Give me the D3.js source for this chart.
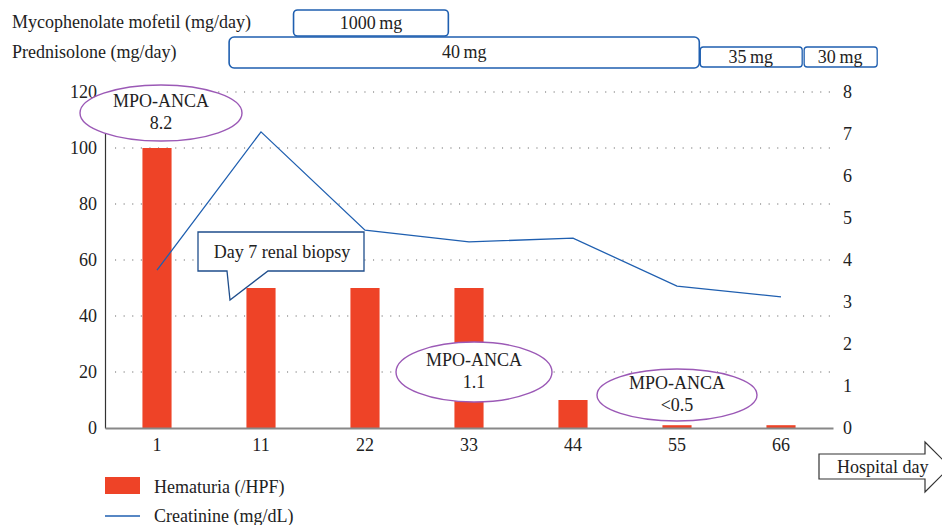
<!DOCTYPE html>
<html><head><meta charset="utf-8">
<script src="https://cdn.jsdelivr.net/npm/d3@7"></script>
<style>body{margin:0;background:#fff}svg{display:block}svg text{font-family:"Liberation Serif","DejaVu Serif",serif !important;fill:#222}</style>
</head><body>
<script>
const days = ["1","11","22","33","44","55","66"];
const hematuria = [100,50,50,50,10,1,1];
const creatinine = [3.76,7.05,4.71,4.43,4.52,3.38,3.12];
const leftTicks = [0,20,40,60,80,100,120];
const rightTicks = [0,1,2,3,4,5,6,7,8];
const mmfLabels = ["1000\u2009mg"];
const mmfStart = [15.2];
const mmfEnd = [31.3];
const predLabels = ["40\u2009mg","35\u2009mg","30\u2009mg"];
const predStart = [8.5,57.4,68.2];
const predEnd = [57.4,68.1,75.9];
const ancaDay = ["1","33","55"];
const ancaVal = ["8.2","1.1","<0.5"];

const W=942,H=525, FS=18;
const svg=d3.select("body").append("svg").attr("width",W).attr("height",H)
  .attr("font-family","Liberation Serif, serif");
const m={l:105,r:833,t:92,b:428};
const x=d3.scaleBand().domain(days).range([m.l,m.r]).paddingInner(0.72).paddingOuter(0.36);
const y=d3.scaleLinear().domain([0,120]).range([m.b,m.t]);
const y2=d3.scaleLinear().domain([0,8]).range([m.b,m.t]);
const cx=d=>x(d)+x.bandwidth()/2;
const dayScale=d3.scaleLinear().domain([1,66]).range([157,782]);

// gridlines
svg.append("g").selectAll("line").data(leftTicks.filter(d=>d>0)).join("line")
 .attr("x1",m.l+10).attr("x2",m.r).attr("y1",d=>y(d)).attr("y2",d=>y(d))
 .attr("stroke","#666").attr("stroke-width",1.1).attr("stroke-dasharray","1.1,7.5");

// bars
svg.append("g").selectAll("rect").data(hematuria).join("rect")
 .attr("x",(d,i)=>x(days[i])).attr("width",x.bandwidth())
 .attr("y",d=>y(d)).attr("height",d=>m.b-y(d)).attr("fill","#ee4327");

// axes
function styleAxis(g){g.attr("font-family",null).attr("font-size",null);
  g.selectAll("text").attr("font-size",FS).attr("fill","#222");}
const ay=svg.append("g").attr("transform",`translate(${m.l},0)`)
 .call(d3.axisLeft(y).tickValues(leftTicks).tickSize(0).tickPadding(8));
ay.select(".domain").attr("stroke","#333").attr("stroke-width",1.2);
styleAxis(ay);
const ay2=svg.append("g").attr("transform",`translate(${m.r},0)`)
 .call(d3.axisRight(y2).tickValues(rightTicks).tickSize(0).tickPadding(10));
ay2.select(".domain").remove();
styleAxis(ay2);
const ax=svg.append("g").attr("transform",`translate(0,${m.b})`)
 .call(d3.axisBottom(x).tickSize(0).tickPadding(10));
ax.select(".domain").attr("stroke","#888").attr("stroke-width",2);
styleAxis(ax);

// creatinine line
svg.append("path").datum(creatinine)
 .attr("d",d3.line().x((d,i)=>cx(days[i])).y(d=>y2(d)))
 .attr("fill","none").attr("stroke","#1f5fb0").attr("stroke-width",1.3);

// ANCA ellipses
const ag=svg.append("g");
const ellY=[113,372,395], ellRx=[81,78,80], ellRy=[28,30,26], ellDx=[4,5,0];
ancaDay.forEach((d,i)=>{
  const ex=cx(d)+ellDx[i];
  ag.append("ellipse").attr("cx",ex).attr("cy",ellY[i]).attr("rx",ellRx[i]).attr("ry",ellRy[i])
    .attr("fill","#fff").attr("stroke","#9b59b6").attr("stroke-width",1.4);
  ag.append("text").attr("x",ex).attr("y",ellY[i]-6).attr("text-anchor","middle").attr("font-size",FS).text("MPO-ANCA");
  ag.append("text").attr("x",ex).attr("y",ellY[i]+16).attr("text-anchor","middle").attr("font-size",FS).text(ancaVal[i]);
});

// biopsy callout
svg.append("path")
 .attr("d","M198,232 H364 V271 H268 L230,300 L227,271 H198 Z")
 .attr("fill","#fff").attr("stroke","#1f4e8c").attr("stroke-width",1.3);
svg.append("text").attr("x",282).attr("y",258).attr("text-anchor","middle").attr("font-size",FS).text("Day 7 renal biopsy");

// top regimens
svg.append("text").attr("x",12).attr("y",28).attr("font-size",FS).text("Mycophenolate mofetil (mg/day)");
svg.append("text").attr("x",12).attr("y",58).attr("font-size",FS).text("Prednisolone (mg/day)");
mmfLabels.forEach((l,i)=>{
  const x0=dayScale(mmfStart[i]),x1=dayScale(mmfEnd[i]);
  svg.append("rect").attr("x",x0).attr("y",10).attr("width",x1-x0).attr("height",26).attr("rx",4)
   .attr("fill","#fff").attr("stroke","#1f5fb0").attr("stroke-width",1.6);
  svg.append("text").attr("x",(x0+x1)/2).attr("y",29).attr("text-anchor","middle").attr("font-size",FS).text(l);
});
predLabels.forEach((l,i)=>{
  const x0=dayScale(predStart[i]),x1=dayScale(predEnd[i]);
  const big=i==0;
  const yy=big?37:47, hh=big?31:20;
  svg.append("rect").attr("x",x0+(big?0:1)).attr("y",yy).attr("width",x1-x0-(big?0:1)).attr("height",hh).attr("rx",big?5:3)
   .attr("fill","#fff").attr("stroke","#1f5fb0").attr("stroke-width",big?1.6:1.3);
  svg.append("text").attr("x",(x0+x1)/2).attr("y",big?58:63).attr("text-anchor","middle").attr("font-size",FS).text(l);
});

// hospital day arrow
svg.append("path").attr("d","M819,454 H925 V442 L950,467 L925,492 V479 H819 Z")
 .attr("fill","#fff").attr("stroke","#333").attr("stroke-width",1.2);
svg.append("text").attr("x",837).attr("y",473).attr("font-size",FS).text("Hospital day");

// legend
svg.append("rect").attr("x",105).attr("y",477).attr("width",35).attr("height",17).attr("fill","#ee4327");
svg.append("text").attr("x",154).attr("y",493).attr("font-size",FS).text("Hematuria (/HPF)");
svg.append("line").attr("x1",105).attr("x2",140).attr("y1",516).attr("y2",516).attr("stroke","#1f5fb0").attr("stroke-width",1.3);
svg.append("text").attr("x",154).attr("y",522).attr("font-size",FS).text("Creatinine (mg/dL)");
</script>
</body></html>
